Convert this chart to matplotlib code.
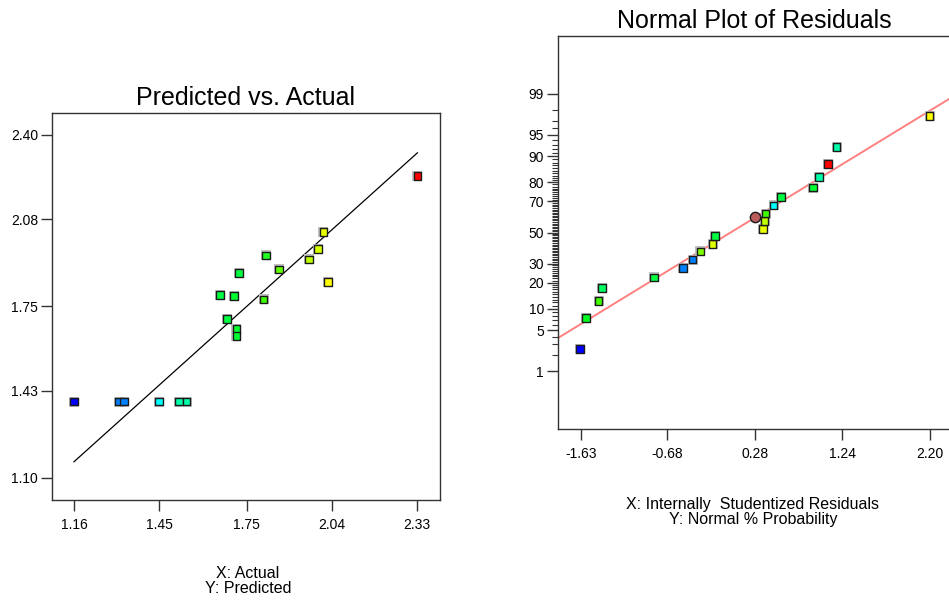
import numpy as np
import matplotlib
matplotlib.use("Agg")
import matplotlib.pyplot as plt
from statistics import NormalDist

plt.rcParams['font.family'] = ['Liberation Sans', 'DejaVu Sans']

# --- Predicted vs. Actual ---
actual = [1.160, 1.313, 1.330, 1.450, 1.518, 1.544, 1.658, 1.707, 1.724, 1.683,
          1.714, 1.714, 1.807, 1.816, 1.859, 1.961, 1.992, 2.011, 2.027, 2.332]
predicted = [1.388, 1.388, 1.388, 1.388, 1.388, 1.388, 1.793, 1.789, 1.875, 1.701,
             1.664, 1.638, 1.776, 1.943, 1.890, 1.928, 1.966, 2.032, 1.842, 2.243]
pva_colors = ["#0000ff", "#0080ff", "#0080ff", "#00ffff", "#00ffaa", "#00ffaa",
              "#00ff40", "#00ff30", "#00ff40", "#00ff40", "#00ff30", "#00ff30",
              "#40ff00", "#20ff20", "#60ff00", "#c0ff00", "#d8ff00", "#e8ff00",
              "#ffff00", "#ff0000"]
pva_xticks = ["1.16", "1.45", "1.75", "2.04", "2.33"]
pva_yticks = ["1.10", "1.43", "1.75", "2.08", "2.40"]

# --- Normal plot of residuals ---
resid = [-1.641, -1.575, -1.435, -1.395, -0.826, -0.510, -0.404, -0.319, -0.184, -0.158,
         0.367, 0.385, 0.396, 0.484, 0.565, 0.917, 0.983, 1.079, 1.175, 2.195]
prob = [2.5, 7.5, 12.5, 17.5, 22.5, 27.5, 32.5, 37.5, 42.5, 47.5,
        52.5, 57.5, 62.5, 67.5, 72.5, 77.5, 82.5, 87.5, 92.5, 97.5]
resid_colors = ["#0000ff", "#00ff20", "#40ff00", "#00ff60", "#00ff40", "#0080ff",
                "#0080ff", "#80ff00", "#e0ff00", "#00ff40", "#e8ff00", "#c0ff00",
                "#40ff00", "#00ffff", "#00ff40", "#00ff30", "#00ffaa", "#ff0000",
                "#00ffaa", "#ffff00"]
sel_resid, sel_prob = 0.28, 60.0
fit_slope, fit_icpt = 0.936, -0.012
npp_xticks = ["-1.63", "-0.68", "0.28", "1.24", "2.20"]
npp_yticks = [1, 5, 10, 20, 30, 50, 70, 80, 90, 95, 99]

nd = NormalDist()
def pz(p):
    return np.array([nd.inv_cdf(v / 100.0) for v in np.atleast_1d(p)])

fig = plt.figure(figsize=(9.49, 6.02), dpi=100)
W, H = 949, 602

def squares(ax, x, y, colors):
    ax.scatter(x, y, marker="s", s=48, color="#c0c0c0", linewidths=0, zorder=3)
    ax.scatter(x, y, marker="s", s=30, c=colors, edgecolors="#1a1a1a",
               linewidths=1.0, zorder=4)

def style(ax):
    for sp in ax.spines.values():
        sp.set_color("#333333")
        sp.set_linewidth(1.0)
    ax.tick_params(axis="both", colors="#333333", labelcolor="black",
                   labelsize=10, width=1.0, direction="out")
    ax.tick_params(axis="x", length=8, pad=5)
    ax.tick_params(axis="y", length=8, pad=2)

# left panel
ax1 = fig.add_axes([52 / W, (H - 500) / H, 388 / W, 387 / H])
ax1.plot([min(actual), max(actual)], [min(actual), max(actual)],
         color="black", lw=0.9, zorder=2)
squares(ax1, actual, predicted, pva_colors)
ax1.set_xlim(1.085, 2.409)
ax1.set_ylim(1.015, 2.483)
ax1.set_xticks([float(t) for t in pva_xticks])
ax1.set_xticklabels(pva_xticks)
ax1.set_yticks([float(t) for t in pva_yticks])
ax1.set_yticklabels(pva_yticks)
ax1.set_title("Predicted vs. Actual", fontsize=18, pad=6)
style(ax1)

# right panel
ax2 = fig.add_axes([558 / W, (H - 429) / H, 393 / W, 393 / H])
xl = np.array([-1.88, 2.43])
ax2.plot(xl, fit_slope * xl + fit_icpt, color="#ff8080", lw=1.4, zorder=2)
squares(ax2, resid, pz(prob), resid_colors)
ax2.scatter([sel_resid], pz(sel_prob), marker="o", s=55, color="#b85c5c",
            edgecolors="#1a1a1a", linewidths=1.0, zorder=5)
ax2.set_xlim(xl)
ax2.set_ylim(-3.3, 3.3)
ax2.set_xticks([float(t) for t in npp_xticks])
ax2.set_xticklabels(npp_xticks)
ax2.set_yticks(pz(npp_yticks))
ax2.set_yticklabels([str(v) for v in npp_yticks])
minor = [p for p in range(2, 99) if p not in npp_yticks]
ax2.set_yticks(pz(minor), minor=True)
ax2.set_title("Normal Plot of Residuals", fontsize=18, pad=6)
style(ax2)
ax2.tick_params(axis="y", which="major", length=8)
ax2.tick_params(axis="y", which="minor", length=4, width=0.8, colors="#333333")

fig.text(248 / W, 1 - 581 / H, "X: Actual\nY: Predicted", ha="center", va="center",
         fontsize=11.5, linespacing=1.0)
fig.text(753 / W, 1 - 512 / H, "X: Internally  Studentized Residuals\nY: Normal % Probability",
         ha="center", va="center", fontsize=11.5, linespacing=1.0)

fig.savefig("out.png", dpi=100)
